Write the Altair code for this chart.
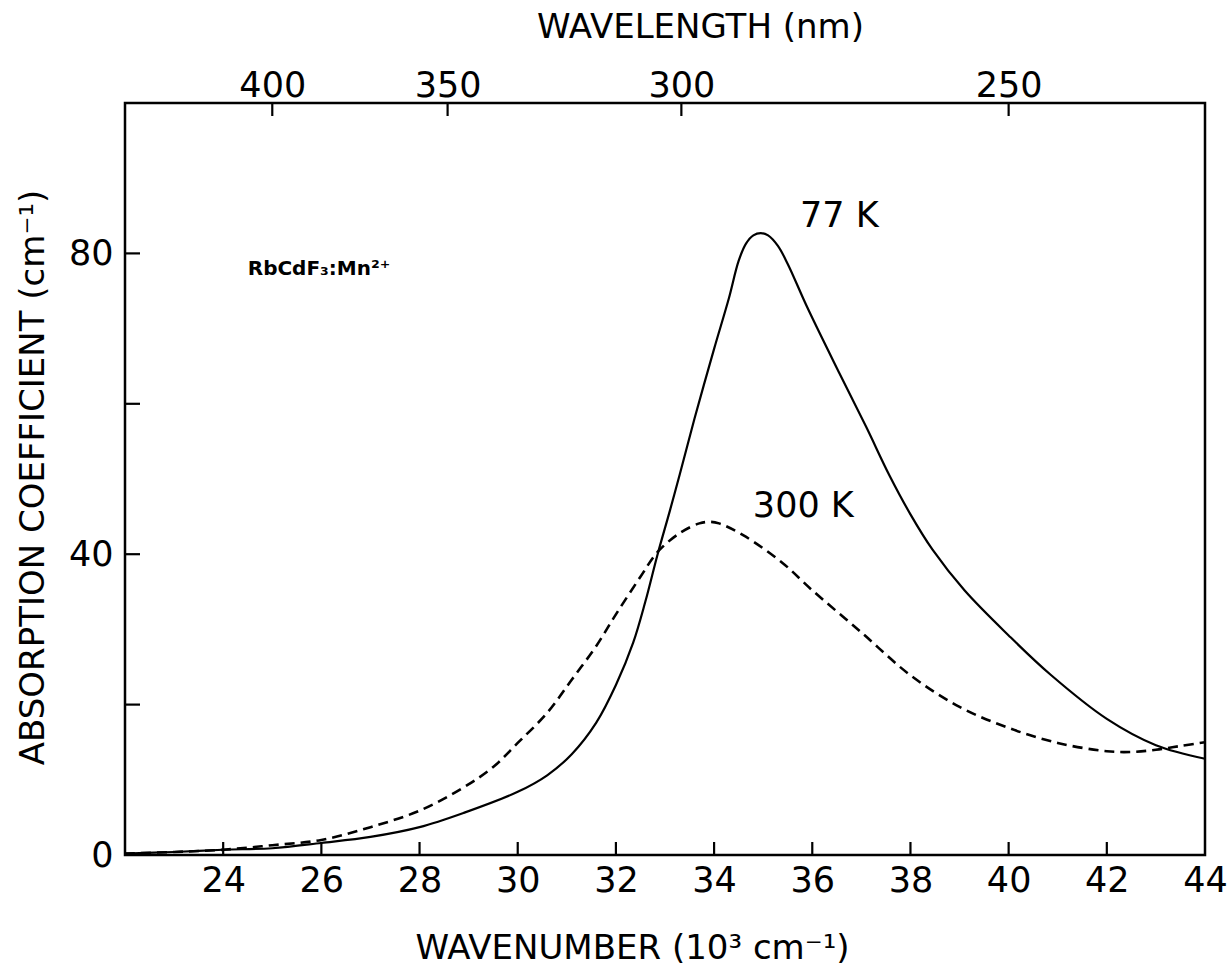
import altair as alt
import pandas as pd

# ---- data ----
wn_77 = [22.0, 23.0, 24.0, 25.0, 26.0, 27.0, 28.0, 28.9, 30.0, 30.6, 31.1, 31.6, 32.0,
         32.35, 32.6, 32.85, 33.1, 33.3, 33.6, 34.0, 34.3, 34.5, 34.65, 34.8, 34.95,
         35.1, 35.3, 35.5, 35.9, 36.55, 37.1, 37.57, 38.0, 38.45, 39.1, 40.0, 40.85,
         42.0, 43.0, 44.0]
ab_77 = [0.2, 0.4, 0.7, 0.9, 1.6, 2.4, 3.7, 5.6, 8.4, 10.6, 13.4, 17.6, 22.6,
         28.2, 33.7, 40.0, 45.8, 50.6, 58.0, 67.3, 74.0, 79.0, 81.3, 82.4, 82.7,
         82.4, 81.0, 78.6, 72.8, 64.1, 56.9, 50.5, 45.3, 40.6, 35.2, 29.2, 24.0,
         18.1, 14.6, 12.8]

wn_300 = [22.0, 23.0, 24.0, 25.0, 26.0, 27.0, 28.0, 28.9, 29.5, 30.0, 30.6, 31.1,
          31.6, 32.0, 32.5, 32.85, 33.3, 33.7, 33.9, 34.1, 34.6, 35.4, 36.0, 37.0,
          38.0, 39.0, 40.0, 41.0, 42.0, 42.5, 43.0, 43.5, 44.0]
ab_300 = [0.2, 0.4, 0.7, 1.3, 2.0, 3.7, 5.9, 9.0, 11.7, 14.9, 18.9, 23.3,
          27.8, 32.0, 37.0, 40.3, 42.8, 44.1, 44.3, 44.1, 42.5, 38.8, 35.2, 29.6,
          23.9, 19.7, 16.9, 14.9, 13.8, 13.7, 14.0, 14.5, 15.0]

bottom_tick_values = [24, 26, 28, 30, 32, 34, 36, 38, 40, 42, 44]
left_label_values = [0, 40, 80]
left_tick_values = [20, 40, 60, 80]
top_wavelengths = [400, 350, 300, 250]

ann_text = ["77 K", "300 K", "RbCdF\u2083:Mn\u00b2\u207a"]
ann_x = [35.75, 34.79, 24.5]
ann_y = [83.5, 44.9, 77.1]

# ---- styling ----
FONT = "DejaVu Sans"
FS_LAB = 35
FS_TIT = 34
FS_ANN = 35
W, H = 1080, 752
X0, X1, Y0, Y1 = 22, 44, 0, 100
TICK_Y = 13 * (Y1 - Y0) / H      # inward tick length in data units (y)
TICK_X = 15 * (X1 - X0) / W      # inward tick length in data units (x)

xs = alt.Scale(domain=[X0, X1], nice=False, zero=False)
ys = alt.Scale(domain=[Y0, Y1], nice=False)

df77 = pd.DataFrame({"wn": wn_77, "ab": ab_77})
df300 = pd.DataFrame({"wn": wn_300, "ab": ab_300})

common = dict(ticks=False, domain=False, grid=False, tickSize=0, labelFont=FONT,
              labelFontSize=FS_LAB, labelColor="black", labelFlush=False,
              labelOverlap=False, titleFont=FONT, titleFontSize=FS_TIT,
              titleFontWeight="normal", titleColor="black", titleAlign="center",
              titleBaseline="alphabetic")

x_axis = alt.Axis(values=bottom_tick_values, orient="bottom", labelPadding=8,
                  title="WAVENUMBER (10\u00b3 cm\u207b\u00b9)", titleX=507, titleY=103,
                  **common)
y_axis = alt.Axis(values=left_label_values, orient="left", labelPadding=12,
                  title="ABSORPTION COEFFICIENT (cm\u207b\u00b9)", titleX=-82,
                  titleY=374, titleAngle=-90, **common)

solid = alt.Chart(df77).mark_line(color="black", strokeWidth=2.2,
                                   interpolate="catmull-rom").encode(
    x=alt.X("wn:Q", scale=xs, axis=x_axis),
    y=alt.Y("ab:Q", scale=ys, axis=y_axis),
)

dashed = alt.Chart(df300).mark_line(color="black", strokeWidth=2.6, strokeDash=[10, 6],
                                     interpolate="catmull-rom").encode(
    x=alt.X("wn:Q", scale=xs, axis=None),
    y=alt.Y("ab:Q", scale=ys, axis=None),
)

# inward ticks, bottom
bt = pd.DataFrame({"x": bottom_tick_values[:-1]})
bt["y"] = Y0
bt["y2"] = Y0 + TICK_Y
bottom_ticks = alt.Chart(bt).mark_rule(color="black", strokeWidth=2.2).encode(
    x=alt.X("x:Q", scale=xs, axis=None),
    y=alt.Y("y:Q", scale=ys, axis=None), y2="y2:Q")

# inward ticks, left
lt = pd.DataFrame({"y": left_tick_values})
lt["x"] = X0
lt["x2"] = X0 + TICK_X
left_ticks = alt.Chart(lt).mark_rule(color="black", strokeWidth=2.2).encode(
    x=alt.X("x:Q", scale=xs, axis=None), x2="x2:Q",
    y=alt.Y("y:Q", scale=ys, axis=None))

# top axis: wavelength in nm -> wavenumber in 10^3 cm^-1
top_pos = [1e4 / w for w in top_wavelengths]
tt = pd.DataFrame({"x": top_pos, "lam": top_wavelengths})
tt["y"] = Y1
tt["y2"] = Y1 - TICK_Y
top_axis = alt.Axis(values=top_pos, orient="top", labelPadding=0,
                    labelExpr="format(10000 / datum.value, '.0f')",
                    title="WAVELENGTH (nm)", titleX=575, titleY=-66, **common)
top_ticks = alt.Chart(tt).mark_rule(color="black", strokeWidth=2.2).encode(
    x=alt.X("x:Q", scale=xs, axis=top_axis),
    y=alt.Y("y:Q", scale=ys, axis=None), y2="y2:Q")

ann = pd.DataFrame({"t": ann_text, "x": ann_x, "y": ann_y})
labels = alt.Chart(ann.iloc[:2]).mark_text(font=FONT, fontSize=FS_ANN, align="left",
                                            baseline="alphabetic", color="black").encode(
    x=alt.X("x:Q", scale=xs, axis=None),
    y=alt.Y("y:Q", scale=ys, axis=None), text="t:N")
formula = alt.Chart(ann.iloc[2:]).mark_text(font="DejaVu Sans", fontSize=20,
                                             fontWeight="bold", align="left",
                                             baseline="alphabetic", color="black").encode(
    x=alt.X("x:Q", scale=xs, axis=None),
    y=alt.Y("y:Q", scale=ys, axis=None), text="t:N")

chart = alt.layer(solid, dashed, bottom_ticks, left_ticks, top_ticks, labels, formula
                  ).resolve_axis(x="independent", y="independent").properties(
    width=W, height=H,
    autosize=alt.AutoSizeParams(type="none"),
    padding={"left": 125, "top": 103, "right": 25, "bottom": 114},
    background="white",
).configure_view(stroke="black", strokeWidth=2.5)

chart.save("out.html", embed_options={"renderer": "svg", "actions": False})
